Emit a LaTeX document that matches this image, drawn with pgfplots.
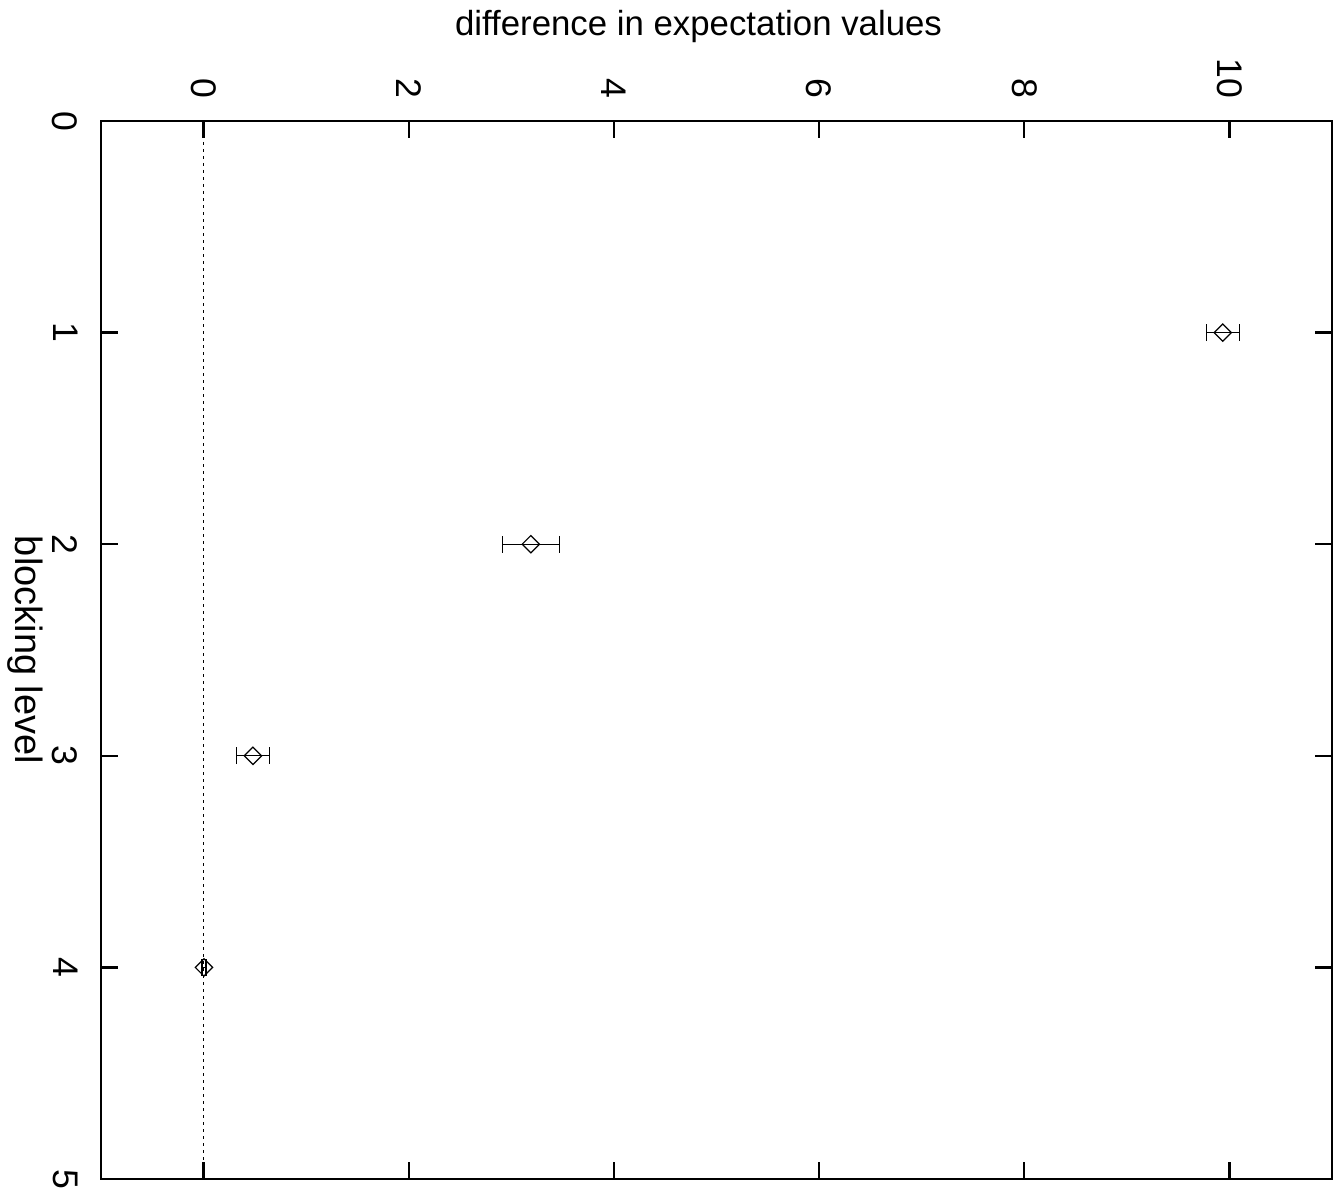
\documentclass[border=0pt]{standalone}
\usepackage{fontspec}
\setmainfont{Liberation Sans}
\usepackage{pgfplots}
\pgfplotsset{compat=1.18}
\begin{document}
\begin{tikzpicture}
\begin{axis}[
    scale only axis,
    width=615.5pt,
    height=529pt,
    xmin=-1, xmax=11,
    ymin=0, ymax=5,
    y dir=reverse,
    clip=false,
    xtick={0,2,...,10},
    ytick={0,1,...,5},
    xticklabel pos=upper,
    tick align=inside,
    major tick length=8.5pt,
    axis line style={line width=1.2pt},
    every tick/.style={black, line width=1.2pt},
    /pgf/number format/assume math mode=true,
    tick label style={font=\fontsize{17.8pt}{21pt}\selectfont},
    xticklabel style={rotate=-90, anchor=east, inner xsep=11pt, inner ysep=0pt},
    yticklabel style={rotate=-90, anchor=north, inner ysep=11.5pt, inner xsep=0pt},
    xlabel={difference in expectation values},
    ylabel={blocking level},
    xlabel style={font=\fontsize{17.4pt}{21pt}\selectfont,
        at={(axis cs:5,0)}, anchor=south, inner ysep=39pt, xshift=-9pt},
    ylabel style={font=\fontsize{19pt}{22pt}\selectfont,
        rotate=180, at={(axis cs:-1,2.5)}, anchor=north, inner ysep=29pt, inner xsep=0pt},
]
% zero axis
\addplot[black, line width=0.5pt, dash pattern=on 1.5pt off 2pt] coordinates {(0,0) (0,5)};
% horizontal error bars with caps
\addplot[draw=none, mark=none,
    error bars/.cd, x dir=both, x explicit,
    error mark=|,
    error bar style={draw=black, line width=0.6pt, solid},
    error mark options={draw=black, mark size=4.2pt, line width=0.6pt}]
coordinates {
    (9.935,1) +- (0.162,0)
    (3.19,2)  +- (0.279,0)
    (0.481,3) +- (0.162,0)
    (0.004,4) +- (0.02,0)
};
% open diamonds
\addplot[black, only marks, mark=square, mark size=3.07pt,
    mark options={rotate=45, solid, line width=0.6pt, fill=none}]
coordinates {
    (9.935,1)
    (3.19,2)
    (0.481,3)
    (0.004,4)
};
\coordinate (sw) at (axis cs:-1,5);
\coordinate (ne) at (axis cs:11,0);
\end{axis}
\pgfresetboundingbox
\path[use as bounding box] ([shift={(-50.5pt,-7pt)}]sw) rectangle ([shift={(5pt,60.5pt)}]ne);
\end{tikzpicture}
\end{document}
